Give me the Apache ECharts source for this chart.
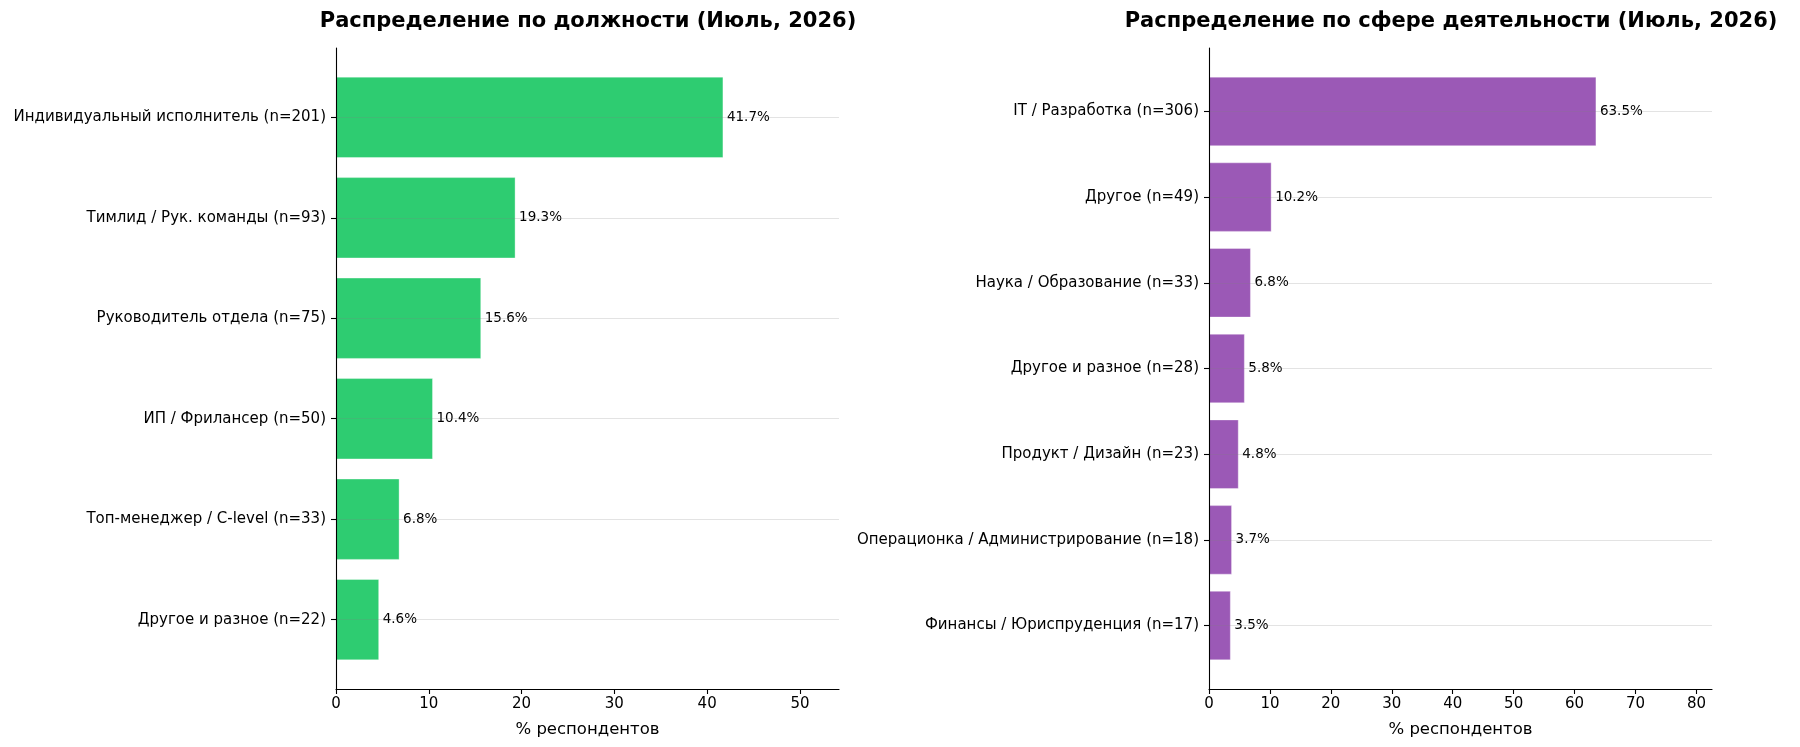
<!DOCTYPE html>
<html>
<head>
<meta charset="utf-8">
<script src="https://cdn.jsdelivr.net/npm/echarts@6/dist/echarts.min.js"></script>
<style>
  html, body { margin: 0; padding: 0; background: #fff; }
  #chart { width: 1800px; height: 747px; }
</style>
</head>
<body>
<div id="chart"></div>
<script>
// Распределение по должности
var roleNames = ['Индивидуальный исполнитель (n=201)', 'Тимлид / Рук. команды (n=93)',
    'Руководитель отдела (n=75)', 'ИП / Фрилансер (n=50)',
    'Топ-менеджер / C-level (n=33)', 'Другое и разное (n=22)'];
var roleValues = [41.7, 19.3, 15.6, 10.4, 6.8, 4.6];
var roleTicks = [0, 10, 20, 30, 40, 50];

// Распределение по сфере деятельности
var fieldNames = ['IT / Разработка (n=306)', 'Другое (n=49)', 'Наука / Образование (n=33)',
    'Другое и разное (n=28)', 'Продукт / Дизайн (n=23)',
    'Операционка / Администрирование (n=18)', 'Финансы / Юриспруденция (n=17)'];
var fieldValues = [63.5, 10.2, 6.8, 5.8, 4.8, 3.7, 3.5];
var fieldTicks = [0, 10, 20, 30, 40, 50, 60, 70, 80];

var FONT = 'DejaVu Sans';
var myChart = echarts.init(document.getElementById('chart'));

function toRows(values) {
    return values.map(function (v, i) { return [v, i]; });
}

function renderBars(color) {
    return function (params, api) {
        var v = api.value(0), i = api.value(1);
        var start = api.coord([0, i]);
        var end = api.coord([v, i]);
        var h = Math.abs(api.size([0, 0.8])[1]);
        return {
            type: 'group',
            children: [
                {
                    type: 'rect',
                    shape: {x: start[0], y: start[1] - h / 2, width: end[0] - start[0], height: h},
                    style: {fill: color, stroke: 'rgba(255,255,255,0.35)', lineWidth: 1}
                },
                {
                    type: 'text',
                    x: end[0] + 4,
                    y: end[1],
                    style: {
                        text: v.toFixed(1) + '%',
                        fill: '#000',
                        font: '13.5px "' + FONT + '"',
                        align: 'left',
                        verticalAlign: 'middle'
                    }
                }
            ]
        };
    };
}

function xAxisFor(grid, max, ticks) {
    return {
        type: 'value',
        gridIndex: grid,
        position: 'bottom',
        min: 0,
        max: max,
        name: '% респондентов',
        nameLocation: 'middle',
        nameGap: 32,
        nameTextStyle: {fontFamily: FONT, fontSize: 16.5, color: '#000'},
        axisLine: {show: true, onZero: false, lineStyle: {color: '#000', width: 1.1}},
        axisTick: {show: true, length: 5, customValues: ticks, lineStyle: {color: '#000', width: 1.1}},
        axisLabel: {customValues: ticks, margin: 8, fontFamily: FONT, fontSize: 15, color: '#000'},
        splitLine: {show: false}
    };
}

function yAxisFor(grid, names) {
    var idx = names.map(function (n, i) { return i; });
    return {
        type: 'value',
        gridIndex: grid,
        inverse: true,
        min: -0.69 - (names.length - 6) * 0.05,
        max: names.length - 1 + 0.69 + (names.length - 6) * 0.05,
        z: 3,
        axisLine: {show: true, onZero: false, lineStyle: {color: '#000', width: 1.1}},
        axisTick: {show: true, length: 5, customValues: idx, lineStyle: {color: '#000', width: 1.1}},
        axisLabel: {
            customValues: idx,
            margin: 10,
            fontFamily: FONT,
            fontSize: 15,
            color: '#000',
            formatter: function (v) { return names[Math.round(v)]; }
        },
        splitLine: {show: true, lineStyle: {color: 'rgba(128,128,128,0.22)', width: 1}}
    };
}

option = {
    backgroundColor: '#fff',
    animation: false,
    title: [
        {
            text: 'Распределение по должности (Июль, 2026)',
            left: 588, top: 11, padding: 0, textAlign: 'center',
            textStyle: {fontFamily: FONT, fontWeight: 'bold', fontSize: 21, color: '#000'}
        },
        {
            text: 'Распределение по сфере деятельности (Июль, 2026)',
            left: 1451, top: 11, padding: 0, textAlign: 'center',
            textStyle: {fontFamily: FONT, fontWeight: 'bold', fontSize: 21, color: '#000'}
        }
    ],
    grid: [
        {left: 336, right: 961, top: 48, bottom: 58},
        {left: 1209, right: 88, top: 48, bottom: 58}
    ],
    xAxis: [
        xAxisFor(0, 41.7 * 1.3, roleTicks),
        xAxisFor(1, 63.5 * 1.3, fieldTicks)
    ],
    yAxis: [
        yAxisFor(0, roleNames),
        yAxisFor(1, fieldNames)
    ],
    series: [
        {
            type: 'custom',
            xAxisIndex: 0,
            yAxisIndex: 0,
            encode: {x: 0, y: 1},
            renderItem: renderBars('#2ecc71'),
            data: toRows(roleValues)
        },
        {
            type: 'custom',
            xAxisIndex: 1,
            yAxisIndex: 1,
            encode: {x: 0, y: 1},
            renderItem: renderBars('#9b59b6'),
            data: toRows(fieldValues)
        }
    ]
};
myChart.setOption(option);
</script>
</body>
</html>
